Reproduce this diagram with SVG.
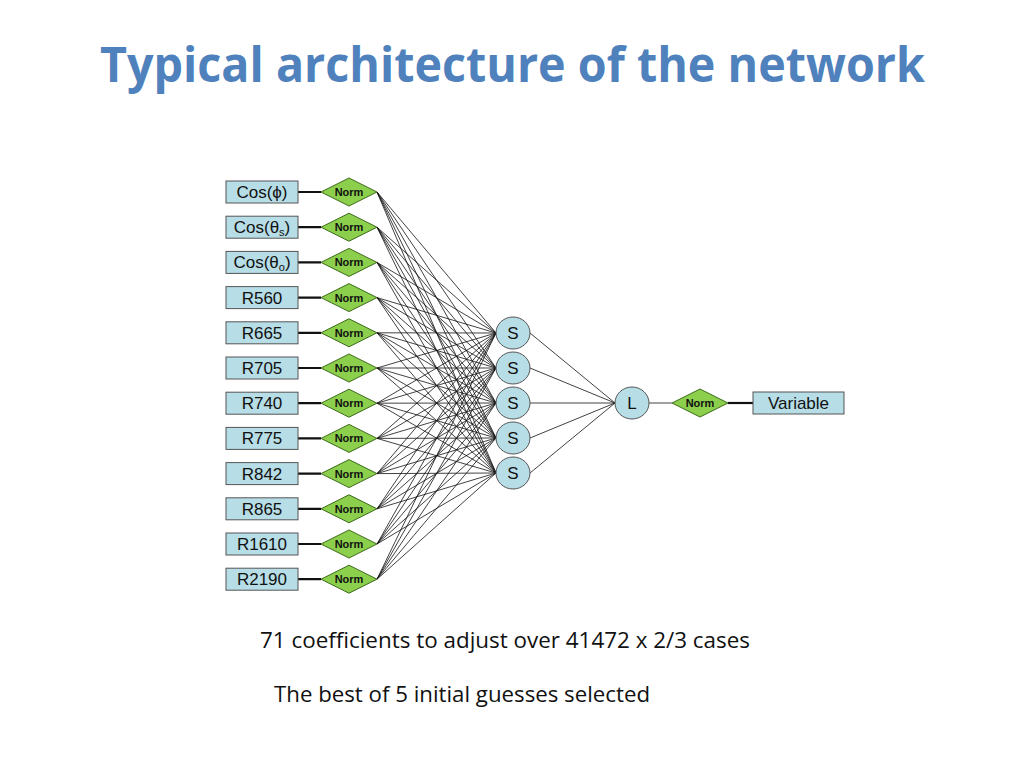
<svg xmlns="http://www.w3.org/2000/svg" width="1024" height="768" viewBox="0 0 1024 768">
<style>
.box{fill:#b7dde6;stroke:#555;stroke-width:1}
.dia{fill:#8ccf4d;stroke:#3d6b1a;stroke-width:1}
.cir{fill:#b7dde6;stroke:#555;stroke-width:1}
.lbl{font-family:"Liberation Sans",Arial,sans-serif;font-size:17px;fill:#111;text-anchor:middle}
.nrm{font-family:"Liberation Sans",Arial,sans-serif;font-size:11px;font-weight:bold;fill:#111;text-anchor:middle}
.thin{stroke:#111;stroke-width:0.8;fill:none}
.thick{stroke:#111;stroke-width:2.2;fill:none}
.title{font-family:"Open Sans","Liberation Sans",sans-serif;font-weight:bold;font-size:49px;fill:#4f81bd}
.body{font-family:"Open Sans","Liberation Sans",sans-serif;font-size:22px;fill:#111}
</style>
<defs>
<polygon id="dm" points="-28,0 0,-14 28,0 0,14"/>
</defs>
<rect width="1024" height="768" fill="#fff"/>
<text class="title" x="100" y="82" textLength="825" lengthAdjust="spacingAndGlyphs">Typical architecture of the network</text>

<g id="connectors">
<g class="thin">
<path d="M377,192L496,333M377,192L496,368M377,192L496,403M377,192L496,438M377,192L496,473
M377,227.2L496,333M377,227.2L496,368M377,227.2L496,403M377,227.2L496,438M377,227.2L496,473
M377,262.4L496,333M377,262.4L496,368M377,262.4L496,403M377,262.4L496,438M377,262.4L496,473
M377,297.6L496,333M377,297.6L496,368M377,297.6L496,403M377,297.6L496,438M377,297.6L496,473
M377,332.8L496,333M377,332.8L496,368M377,332.8L496,403M377,332.8L496,438M377,332.8L496,473
M377,368L496,333M377,368L496,368M377,368L496,403M377,368L496,438M377,368L496,473
M377,403.2L496,333M377,403.2L496,368M377,403.2L496,403M377,403.2L496,438M377,403.2L496,473
M377,438.4L496,333M377,438.4L496,368M377,438.4L496,403M377,438.4L496,438M377,438.4L496,473
M377,473.6L496,333M377,473.6L496,368M377,473.6L496,403M377,473.6L496,438M377,473.6L496,473
M377,508.8L496,333M377,508.8L496,368M377,508.8L496,403M377,508.8L496,438M377,508.8L496,473
M377,544L496,333M377,544L496,368M377,544L496,403M377,544L496,438M377,544L496,473
M377,579.2L496,333M377,579.2L496,368M377,579.2L496,403M377,579.2L496,438M377,579.2L496,473"/>
<path d="M530,333L615,403M530,368L615,403M530,403L615,403M530,438L615,403M530,473L615,403"/>
<path d="M649,403L672,403"/>
</g>
<g class="thick">
<path d="M298,192H321M298,227.2H321M298,262.4H321M298,297.6H321M298,332.8H321M298,368H321M298,403.2H321M298,438.4H321M298,473.6H321M298,508.8H321M298,544H321M298,579.2H321"/>
<path d="M728,403H753"/>
</g>
</g>

<g id="in1"><rect class="box" x="226" y="181" width="72" height="22"/><text class="lbl" x="262" y="198">Cos(ϕ)</text></g>
<g id="in2"><rect class="box" x="226" y="216.2" width="72" height="22"/><text class="lbl" x="262" y="233.2">Cos(θ<tspan font-size="11" dy="3">s</tspan><tspan dy="-3">)</tspan></text></g>
<g id="in3"><rect class="box" x="226" y="251.4" width="72" height="22"/><text class="lbl" x="262" y="268.4">Cos(θ<tspan font-size="11" dy="3">o</tspan><tspan dy="-3">)</tspan></text></g>
<g id="in4"><rect class="box" x="226" y="286.6" width="72" height="22"/><text class="lbl" x="262" y="303.6">R560</text></g>
<g id="in5"><rect class="box" x="226" y="321.8" width="72" height="22"/><text class="lbl" x="262" y="338.8">R665</text></g>
<g id="in6"><rect class="box" x="226" y="357" width="72" height="22"/><text class="lbl" x="262" y="374">R705</text></g>
<g id="in7"><rect class="box" x="226" y="392.2" width="72" height="22"/><text class="lbl" x="262" y="409.2">R740</text></g>
<g id="in8"><rect class="box" x="226" y="427.4" width="72" height="22"/><text class="lbl" x="262" y="444.4">R775</text></g>
<g id="in9"><rect class="box" x="226" y="462.6" width="72" height="22"/><text class="lbl" x="262" y="479.6">R842</text></g>
<g id="in10"><rect class="box" x="226" y="497.8" width="72" height="22"/><text class="lbl" x="262" y="514.8">R865</text></g>
<g id="in11"><rect class="box" x="226" y="533" width="72" height="22"/><text class="lbl" x="262" y="550">R1610</text></g>
<g id="in12"><rect class="box" x="226" y="568.2" width="72" height="22"/><text class="lbl" x="262" y="585.2">R2190</text></g>

<g id="norm1"><use href="#dm" class="dia" x="349" y="192"/><text class="nrm" x="349" y="196">Norm</text></g>
<g id="norm2"><use href="#dm" class="dia" x="349" y="227.2"/><text class="nrm" x="349" y="231.2">Norm</text></g>
<g id="norm3"><use href="#dm" class="dia" x="349" y="262.4"/><text class="nrm" x="349" y="266.4">Norm</text></g>
<g id="norm4"><use href="#dm" class="dia" x="349" y="297.6"/><text class="nrm" x="349" y="301.6">Norm</text></g>
<g id="norm5"><use href="#dm" class="dia" x="349" y="332.8"/><text class="nrm" x="349" y="336.8">Norm</text></g>
<g id="norm6"><use href="#dm" class="dia" x="349" y="368"/><text class="nrm" x="349" y="372">Norm</text></g>
<g id="norm7"><use href="#dm" class="dia" x="349" y="403.2"/><text class="nrm" x="349" y="407.2">Norm</text></g>
<g id="norm8"><use href="#dm" class="dia" x="349" y="438.4"/><text class="nrm" x="349" y="442.4">Norm</text></g>
<g id="norm9"><use href="#dm" class="dia" x="349" y="473.6"/><text class="nrm" x="349" y="477.6">Norm</text></g>
<g id="norm10"><use href="#dm" class="dia" x="349" y="508.8"/><text class="nrm" x="349" y="512.8">Norm</text></g>
<g id="norm11"><use href="#dm" class="dia" x="349" y="544"/><text class="nrm" x="349" y="548">Norm</text></g>
<g id="norm12"><use href="#dm" class="dia" x="349" y="579.2"/><text class="nrm" x="349" y="583.2">Norm</text></g>

<g id="s1"><ellipse class="cir" cx="513" cy="333" rx="17" ry="16"/><text class="lbl" x="513" y="339">S</text></g>
<g id="s2"><ellipse class="cir" cx="513" cy="368" rx="17" ry="16"/><text class="lbl" x="513" y="374">S</text></g>
<g id="s3"><ellipse class="cir" cx="513" cy="403" rx="17" ry="16"/><text class="lbl" x="513" y="409">S</text></g>
<g id="s4"><ellipse class="cir" cx="513" cy="438" rx="17" ry="16"/><text class="lbl" x="513" y="444">S</text></g>
<g id="s5"><ellipse class="cir" cx="513" cy="473" rx="17" ry="16"/><text class="lbl" x="513" y="479">S</text></g>

<g id="L"><ellipse class="cir" cx="632" cy="403" rx="17" ry="16"/><text class="lbl" x="632" y="409">L</text></g>
<g id="normOut"><use href="#dm" class="dia" x="700" y="403"/><text class="nrm" x="700" y="407">Norm</text></g>
<g id="variable"><rect class="box" x="753" y="392" width="91" height="22"/><text class="lbl" x="798.5" y="409">Variable</text></g>

<text class="body" x="260" y="648" textLength="490" lengthAdjust="spacingAndGlyphs">71 coefficients to adjust over 41472 x 2/3 cases</text>
<text class="body" x="274" y="702" textLength="376" lengthAdjust="spacingAndGlyphs">The best of 5 initial guesses selected</text>
</svg>
